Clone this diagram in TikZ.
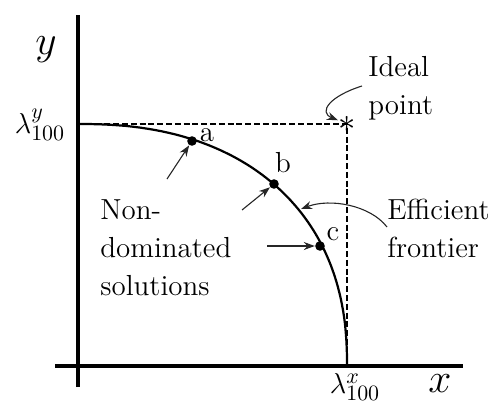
\documentclass[tikz,border=0pt]{standalone}
\usepackage{tikz}
\usetikzlibrary{arrows.meta, positioning, calc}

\begin{document}
\begin{tikzpicture}[
  x=0.5pt, y=-0.5pt,
  font=\fontsize{14.5}{19}\selectfont,
  axe/.style={
    line width=1.6pt,
    draw=black
  },
  pointille/.style={
    line width=0.85pt,
    dash pattern=on 3pt off 1.4pt
  },
  frontiere/.style={
    line width=1.1pt,
    line join=round
  },
  solution/.style={
    circle,
    fill=black,
    inner sep=0pt,
    minimum size=4.8pt
  },
  fleche/.style={
    -{Stealth[length=5.5pt, width=4pt]},
    line width=0.55pt,
    draw=black!85
  },
  legende/.style={
    align=left,
    anchor=west,
    inner sep=0pt
  },
  lettre/.style={
    inner sep=0pt
  },
  axelabel/.style={
    font=\fontsize{22}{22}\selectfont,
    inner sep=0pt
  },
  borne/.style={
    font=\fontsize{15}{18}\selectfont,
    inner sep=0pt
  }
]
\useasboundingbox (0,0) rectangle (496,412);

% Axes
\coordinate (ybas) at (78,387);
\coordinate (yhaut) at (78,15);
\coordinate (xgauche) at (55,366);
\coordinate (xdroite) at (463,366);
\draw[axe] (ybas) -- (yhaut);
\draw[axe] (xgauche) -- (xdroite);
\node[axelabel] (ylab) at (46,50) {$y$};
\node[axelabel] (xlab) at (440,384) {$x$};

% Bornes et point ideal
\coordinate (ymax) at (78,124);
\coordinate (xmax) at (347,366);
\coordinate (ideal) at (347,124);
\node[borne] (ly) at (40,125) {$\lambda^{y}_{100}$};
\node[borne] (lx) at (355,387) {$\lambda^{x}_{100}$};
\draw[pointille] (ymax) -- (ideal) -- (xmax);
\node[inner sep=0pt, font=\fontsize{18}{18}\selectfont] (etoile) at (ideal) {$\ast$};

% Frontiere efficace
\draw[frontiere] (ymax)
  -- plot[domain=0.2:89.8, samples=120, variable=\t]
     ({78+269*sin(\t)^0.87}, {366-242*cos(\t)^0.87})
  -- (xmax);

% Solutions non dominees
\node[solution] (a) at (192,141) {};
\node[solution] (b) at (274,184) {};
\node[solution] (c) at (320,246) {};
\node[lettre] (la) at (207,135) {a};
\node[lettre] (lb) at (283,163) {b};
\node[lettre] (lc) at (333,234) {c};

\node[legende] (nondom) at (100,248) {Non-\\dominated\\solutions};
\coordinate (da) at (167,179);
\coordinate (db) at (242,210);
\coordinate (dc) at (267,246);
\draw[fleche] (da) -- (a);
\draw[fleche] (db) -- (b);
\draw[fleche] (dc) -- (c);

% Legendes de droite
\node[legende] (idealtxt) at (368,88) {Ideal\\point};
\coordinate (dideal) at (362,86);
\draw[fleche] (dideal) .. controls (330,96) and (318,112) .. (etoile);

\node[legende] (efftxt) at (387,228) {Efficient\\frontier};
\coordinate (deff) at (387,227);
\coordinate (feff) at (301,209);
\draw[fleche] (deff) .. controls (370,205) and (330,198) .. (feff);

\end{tikzpicture}
\end{document}
